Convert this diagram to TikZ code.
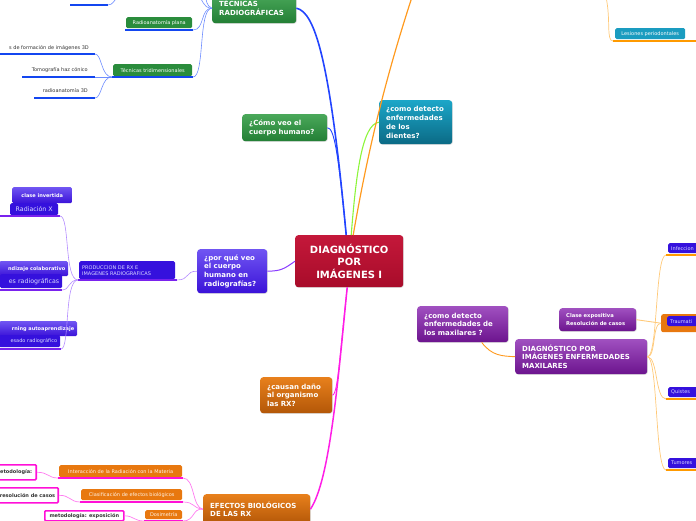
\documentclass[tikz,border=0pt]{standalone}
\usepackage{fontspec}
\setmainfont{DejaVu Sans}
\usetikzlibrary{shadows}
\definecolor{cRedT}{HTML}{C4183A}\definecolor{cRedB}{HTML}{A80C2A}
\definecolor{cGreenT}{HTML}{4AA85A}\definecolor{cGreenB}{HTML}{237F35}
\definecolor{cTealT}{HTML}{1CA6C8}\definecolor{cTealB}{HTML}{0B6A85}
\definecolor{cBlueT}{HTML}{7055F2}\definecolor{cBlueB}{HTML}{3A12D8}
\definecolor{cOrT}{HTML}{E8801C}\definecolor{cOrB}{HTML}{B35708}
\definecolor{cPurT}{HTML}{A050C0}\definecolor{cPurB}{HTML}{6C148E}
\definecolor{sGreen}{HTML}{2A8C3C}\definecolor{sTeal}{HTML}{1A9CC0}
\definecolor{sBlue}{HTML}{3511DD}\definecolor{sOr}{HTML}{E8780F}
\definecolor{lnBlue}{HTML}{2244FF}\definecolor{lnBlueL}{HTML}{6D8CFF}
\definecolor{lnLime}{HTML}{8CF53A}\definecolor{lnOr}{HTML}{FF9A1F}
\definecolor{lnOrL}{HTML}{FFC978}\definecolor{lnPur}{HTML}{8A3CFF}
\definecolor{lnPurL}{HTML}{B48CFF}\definecolor{lnMag}{HTML}{FF1EE6}
\definecolor{lnMagL}{HTML}{FF7CF0}\definecolor{ulBlue}{HTML}{1346F0}
\definecolor{ulPur}{HTML}{7A22EE}\definecolor{ulOr}{HTML}{FF9A00}
\definecolor{ulMag}{HTML}{FF10D8}
\begin{document}
\begin{tikzpicture}[x=1pt,y=-1pt,
  bigbox/.style={rounded corners=3pt, anchor=north west, align=left, text=white,
    inner xsep=7pt, inner ysep=0pt, font=\bfseries\fontsize{7}{8.8}\selectfont,
    drop shadow={opacity=0.25,shadow xshift=0.7pt,shadow yshift=-0.7pt}},
  sbox/.style={rounded corners=1.5pt, anchor=north west, text=white,
    inner xsep=3pt, inner ysep=0pt, font=\fontsize{5}{6}\selectfont},
  leafnode/.style={anchor=east, inner sep=0pt, text=black!80, font=\fontsize{5}{6}\selectfont},
  callout/.style={draw=ulMag, line width=1.6pt, fill=white, rounded corners=1pt,
    inner xsep=3pt, inner ysep=0pt, text=black!80,
    font=\bfseries\fontsize{5}{6}\selectfont},
  ulblue/.style={ulBlue, line width=1.8pt},
  ulpur/.style={ulPur, line width=1.8pt},
  ulor/.style={ulOr, line width=1.8pt},
  ulmag/.style={ulMag, line width=1.8pt},
  cnblue/.style={lnBlueL, line width=0.6pt},
  cnpur/.style={lnPurL, line width=0.6pt},
  cnor/.style={lnOrL, line width=0.7pt},
  cnmag/.style={lnMagL, line width=0.7pt},
]
\useasboundingbox (0,0) rectangle (696,520);

% ---------- main nodes ----------
\node[bigbox, top color=cRedT, bottom color=cRedB, minimum width=108, minimum height=52,
  text width=94, align=center, font=\bfseries\fontsize{10}{12.5}\selectfont]
  (c) at (295,235) {DIAGNÓSTICO\\POR\\IMÁGENES I};
\node[bigbox, top color=cGreenT, bottom color=cGreenB, minimum width=84, minimum height=30, text width=70]
  (tec) at (212,-7) {TÉCNICAS\\RADIOGRÁFICAS};
\node[bigbox, top color=cGreenT, bottom color=cGreenB, minimum width=85, minimum height=27, text width=71]
  (como) at (242,114) {¿Cómo veo el\\cuerpo humano?};
\node[bigbox, top color=cTealT, bottom color=cTealB, minimum width=73, minimum height=44, text width=59]
  (dientes) at (379,100) {¿como detecto\\enfermedades\\de los\\dientes?};
\node[bigbox, top color=cBlueT, bottom color=cBlueB, minimum width=70, minimum height=44, text width=56]
  (porque) at (197,249) {¿por qué veo\\el cuerpo\\humano en\\radiografías?};
\node[bigbox, top color=cOrT, bottom color=cOrB, minimum width=72, minimum height=36, text width=58]
  (causan) at (260,377) {¿causan daño\\al organismo\\las RX?};
\node[bigbox, top color=cOrT, bottom color=cOrB, minimum width=107, minimum height=30, text width=93]
  (efectos) at (203,494) {EFECTOS BIOLÓGICOS\\DE LAS RX};
\node[bigbox, top color=cPurT, bottom color=cPurB, minimum width=91, minimum height=36, text width=77]
  (maxq) at (417,306) {¿como detecto\\enfermedades de\\los maxilares ?};
\node[bigbox, top color=cPurT, bottom color=cPurB, minimum width=132, minimum height=35, text width=118]
  (dmax) at (515,339) {DIAGNÓSTICO POR\\IMÁGENES ENFERMEDADES\\MAXILARES};
\node[bigbox, top color=cPurT, bottom color=cPurB, minimum width=77, minimum height=23, text width=63,
  font=\bfseries\fontsize{5.2}{7.5}\selectfont]
  (clase) at (559,308) {Clase expositiva\\Resolución de casos};

% ---------- small boxes ----------
\node[sbox, fill=sGreen, minimum width=66, minimum height=11] (rplana) at (126,17) {Radioanatomía plana};
\node[sbox, fill=sGreen, minimum width=79, minimum height=12] (ttri) at (113,64) {Técnicas tridimensionales};
\node[sbox, fill=sTeal, minimum width=70, minimum height=11] (lesiones) at (615,28) {Lesiones periodontales};
\node[sbox, fill=sBlue, minimum width=96, minimum height=18, text width=90, align=left, text=white!85!blue]
  (prod) at (79,261) {PRODUCCION DE RX E\\IMAGENES RADIOGRAFICAS};
\node[sbox, top color=cBlueT, bottom color=cBlueB, minimum width=60, minimum height=16,
  font=\bfseries\fontsize{5}{6}\selectfont] (inv) at (12,187) {clase invertida};
\node[sbox, fill=sBlue, minimum width=48, minimum height=12, font=\fontsize{6.3}{7}\selectfont,
  text=white!85!blue] (radx) at (10,203) {Radiación X};
\node[sbox, top color=cBlueT, bottom color=cBlueB, minimum width=69, minimum height=15, text width=63,
  align=right, font=\bfseries\fontsize{5}{6}\selectfont] (colab) at (-1,261) {ndizaje colaborativo};
\node[sbox, fill=sBlue, minimum width=62, minimum height=14, text width=56, align=right,
  font=\fontsize{6.3}{7}\selectfont, text=white!85!blue] (esrad) at (0,274) {es radiográficas};
\node[sbox, top color=cBlueT, bottom color=cBlueB, minimum width=78, minimum height=15, text width=72,
  align=right, font=\bfseries\fontsize{5}{6}\selectfont] (autoa) at (-1,321) {rning autoaprendizaje};
\node[sbox, fill=sBlue, minimum width=61, minimum height=12, text width=55, align=right,
  text=white!85!blue] (esado) at (-1,335) {esado radiográfico};

\node[sbox, fill=sOr, minimum width=123, minimum height=12, text=white!90!orange] (inter) at (59,465) {Interacción de la Radiación con la Materia};
\node[sbox, fill=sOr, minimum width=101, minimum height=11, text=white!90!orange] (clasif) at (81,489) {Clasificación de efectos biológicos};
\node[sbox, fill=sOr, minimum width=37, minimum height=9, text=white!90!orange] (dosim) at (145,510) {Dosimetría};

\node[callout, anchor=north east, minimum width=40, minimum height=15] (met1) at (37,464) {etodología:};
\node[callout, anchor=north east, minimum width=61, minimum height=15] (met2) at (59,487) {resolución de casos};
\node[callout, anchor=north west, minimum width=79, minimum height=10] (met3) at (44,510) {metodología: exposición};

\node[sbox, fill=sOr, minimum width=40, minimum height=18, rounded corners=2pt] (traumabg) at (661,314) {};
\node[sbox, fill=sBlue, minimum width=31, minimum height=10, text width=26, align=left, text=white!85!blue] (trauma) at (667,316) {Traumati};
\node[sbox, fill=sBlue, minimum width=31, minimum height=10, text width=26, align=left, text=white!85!blue] (infe) at (668,243) {Infeccion};
\node[sbox, fill=sBlue, minimum width=31, minimum height=10, text width=26, align=left, text=white!85!blue] (quistes) at (668,387) {Quistes};
\node[sbox, fill=sBlue, minimum width=31, minimum height=10, text width=26, align=left, text=white!85!blue] (tumores) at (668,458) {Tumores};

% ---------- leaves ----------
\node[leafnode] (l3d) at (89,48) {s de formación de imágenes 3D};
\node[leafnode] (ltomo) at (88,70) {Tomografía haz cónico};
\node[leafnode] (lr3d) at (88,91) {radioanatomía 3D};

% ---------- coordinates ----------
\coordinate (tla) at (70,5); \coordinate (tlb) at (108,5); \coordinate (tlc) at (118,-3);
\coordinate (tt1) at (198,-3); \coordinate (tt2) at (205,-3);
\coordinate (otop) at (412,-3); \coordinate (lestop) at (606,-3);
\coordinate (u3a) at (0,54); \coordinate (u3b) at (95,54);
\coordinate (uta) at (22,77); \coordinate (utb) at (95,77);
\coordinate (ura) at (34,98); \coordinate (urb) at (95,98);
\coordinate (lesA) at (613,41); \coordinate (lesB) at (698,41);
\coordinate (rxa) at (0,216); \coordinate (rxb) at (60,216);
\coordinate (era) at (0,290); \coordinate (erb) at (62,290);
\coordinate (esa) at (0,349); \coordinate (esb) at (61,349);
\coordinate (pra) at (78,280); \coordinate (prb) at (177,280);
\coordinate (rpa) at (125,30); \coordinate (rpb) at (193,30);
\coordinate (tra) at (112,77); \coordinate (trb) at (193,77);
\coordinate (ina) at (58,478); \coordinate (inb) at (183,478);
\coordinate (cla) at (80,502); \coordinate (clb) at (183,502);
\coordinate (doa) at (144,521); \coordinate (dob) at (183,521);
\coordinate (ifa) at (666,255); \coordinate (ifb) at (698,255);
\coordinate (qua) at (666,399); \coordinate (qub) at (698,399);
\coordinate (tua) at (666,470); \coordinate (tub) at (698,470);

% ---------- underlines ----------
\draw[ulblue] (tla) -- (tlb);
\draw[ulblue] (rpa) -- (rpb);
\draw[ulblue] (tra) -- (trb);
\draw[ulblue] (u3a) -- (u3b);
\draw[ulblue] (uta) -- (utb);
\draw[ulblue] (ura) -- (urb);
\draw[ulor] (lesA) -- (lesB);
\draw[ulpur] (rxa) -- (rxb);
\draw[ulpur] (era) -- (erb);
\draw[ulpur] (esa) -- (esb);
\draw[ulpur] (pra) -- (prb);
\draw[ulmag] (ina) -- (inb);
\draw[ulmag] (cla) -- (clb);
\draw[ulmag] (doa) -- (dob);
\draw[ulor] (ifa) -- (ifb);
\draw[ulor] (qua) -- (qub);
\draw[ulor] (tua) -- (tub);

% ---------- connectors ----------
\coordinate (cbl) at ([xshift=-3pt]c.north);
\coordinate (clm) at ([xshift=2pt]c.north);
\coordinate (cor) at ([xshift=4pt]c.north);
\coordinate (cmg) at ([xshift=-2pt]c.south);
\coordinate (mqb) at ([xshift=19pt]maxq.south);
% blue branch
\draw[lnBlue, line width=1.6pt] (cbl) .. controls (330,60) and (315,12) .. (tec.east);
\draw[lnBlue, line width=0.9pt] (cbl) .. controls (338,150) and (334,128) .. (como.east);
\draw[cnblue] (tec.west) .. controls (202,8) and (204,-1) .. (tt1);
\draw[cnblue] (tec.west) .. controls (206,6) and (207,0) .. (tt2);
\draw[cnblue] (tec.west) .. controls (200,8) and (205,30) .. (rpb);
\draw[cnblue] (tec.west) .. controls (198,8) and (205,77) .. (trb);
\draw[cnblue] (tlb) .. controls (113,5) and (114,0) .. (tlc);
\draw[cnblue] (tra) -- (utb);
\draw[cnblue] (tra) .. controls (101,77) and (102,54) .. (u3b);
\draw[cnblue] (tra) .. controls (101,77) and (102,98) .. (urb);
% top right
\draw[lnLime, line width=1.1pt] (clm) .. controls (356,175) and (362,124) .. (dientes.west);
\draw[lnOr, line width=1.2pt] (cor) .. controls (368,150) and (385,80) .. (otop);
\draw[cnor] (lestop) .. controls (611,20) and (606,41) .. (lesA);
% purple branch
\draw[lnPur, line width=1pt] (porque.east) .. controls (281,271) and (284,269) .. (c.west);
\draw[cnpur] (prb) .. controls (190,280) and (185,271) .. (porque.west);
\draw[cnpur] (pra) .. controls (64,280) and (70,216) .. (rxb);
\draw[cnpur] (pra) .. controls (68,280) and (70,290) .. (erb);
\draw[cnpur] (pra) .. controls (64,280) and (70,349) .. (esb);
% magenta branch
\draw[lnMag, line width=1.5pt] (cmg) .. controls (338,380) and (330,480) .. (efectos.east);
\draw[lnMag, line width=0.8pt] (cmg) .. controls (340,350) and (338,395) .. (causan.east);
\draw[cnmag] (efectos.west) .. controls (192,508) and (195,478) .. (inb);
\draw[cnmag] (efectos.west) .. controls (192,508) and (195,502) .. (clb);
\draw[cnmag] (efectos.west) .. controls (192,508) and (195,521) .. (dob);
\draw[cnmag] (met1.east) .. controls (48,472) and (48,478) .. (ina);
\draw[cnmag] (met2.east) .. controls (70,495) and (70,502) .. (cla);
\draw[cnmag] (met3.east) .. controls (134,516) and (134,521) .. (doa);
% orange branch (maxilares)
\draw[lnOr, line width=0.9pt] (mqb) .. controls (492,356) and (502,356) .. (dmax.west);
\draw[cnor, line width=0.9pt] (clase.east) -- (traumabg.west);
\draw[cnor] (dmax.east) .. controls (658,357) and (655,255) .. (ifa);
\draw[cnor] (dmax.east) .. controls (656,357) and (652,323) .. (traumabg.west);
\draw[cnor] (dmax.east) .. controls (658,357) and (655,399) .. (qua);
\draw[cnor] (dmax.east) .. controls (658,357) and (655,470) .. (tua);
\end{tikzpicture}
\end{document}
